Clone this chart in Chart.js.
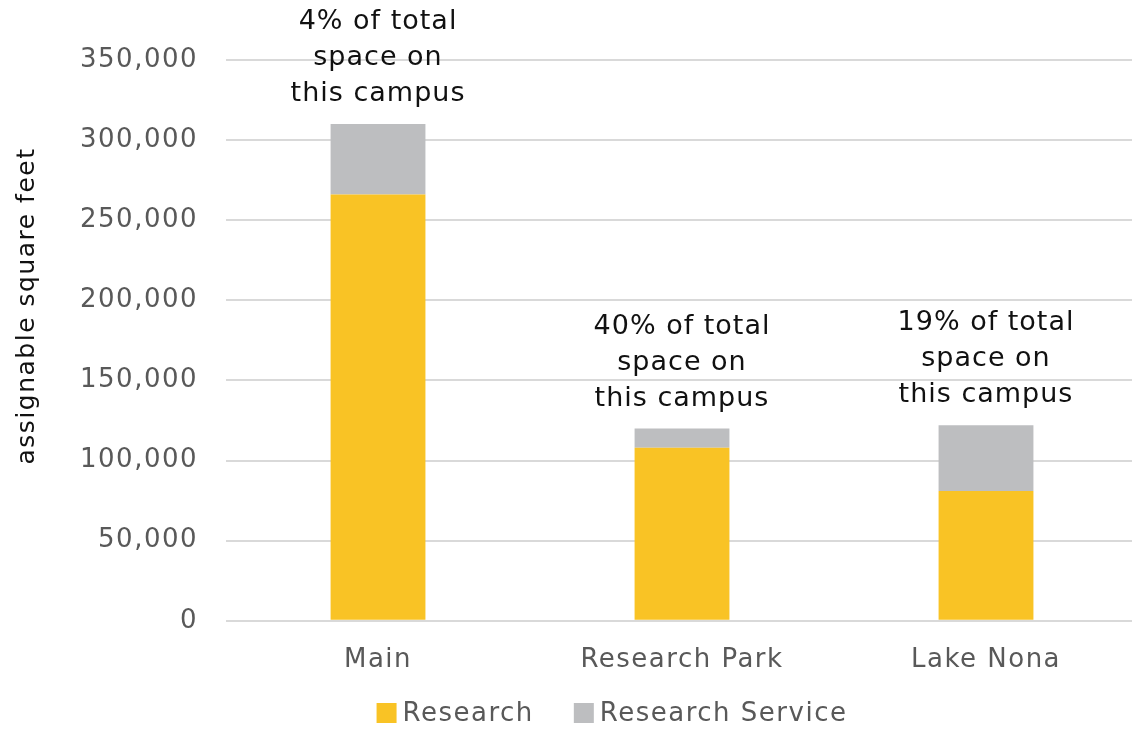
<!DOCTYPE html>
<html>
<head>
<meta charset="utf-8">
<script src="https://cdn.jsdelivr.net/npm/chart.js@4"></script>
<style>
  html, body { margin: 0; padding: 0; background: #fff; overflow: hidden; }
  #wrap { width: 1132px; height: 729px; overflow: hidden; }
  canvas { display: block; }
</style>
</head>
<body>
<div id="wrap"><canvas id="c" width="1138" height="729"></canvas></div>
<script>
// Assignable square feet by campus
const campuses = ['Main', 'Research Park', 'Lake Nona'];
const research = [266000, 108000, 81000];
const researchService = [44000, 12000, 41000];
const shareNotes = [
  ['4% of total', 'space on', 'this campus'],
  ['40% of total', 'space on', 'this campus'],
  ['19% of total', 'space on', 'this campus']
];
const yTicks = [0, 50000, 100000, 150000, 200000, 250000, 300000, 350000];
const yTitle = 'assignable square feet';

const FONT = "'DejaVu Sans', sans-serif";
const SPACING = '1.5px';

// Slightly tracked-out lettering for every text drawn on the canvas
const tracking = {
  id: 'tracking',
  beforeUpdate(chart) { chart.ctx.letterSpacing = SPACING; },
  beforeDraw(chart) { chart.ctx.letterSpacing = SPACING; }
};

// Writes the share note above each stacked bar
const shareNotesPlugin = {
  id: 'shareNotes',
  afterDatasetsDraw(chart) {
    const { ctx, scales } = chart;
    ctx.save();
    ctx.letterSpacing = '1px';
    ctx.font = '27px ' + FONT;
    ctx.fillStyle = '#111';
    ctx.textAlign = 'center';
    ctx.textBaseline = 'middle';
    campuses.forEach((_, i) => {
      const total = research[i] + researchService[i];
      const x = scales.x.getPixelForValue(i);
      const yTop = scales.y.getPixelForValue(total);
      const lines = shareNotes[i];
      const lh = 36;
      lines.forEach((t, k) => {
        const y = yTop - 30 - (lines.length - 1 - k) * lh;
        ctx.fillText(t, x, y);
      });
    });
    ctx.restore();
  }
};

// Vertical axis title and the legend row under the category labels
const frame = {
  id: 'frame',
  afterDraw(chart) {
    const { ctx } = chart;
    ctx.save();
    ctx.letterSpacing = SPACING;
    ctx.font = '25px ' + FONT;
    ctx.fillStyle = '#111';
    ctx.textAlign = 'center';
    ctx.textBaseline = 'middle';
    ctx.translate(27, 306);
    ctx.rotate(-Math.PI / 2);
    ctx.fillText(yTitle, 0, 0);
    ctx.restore();

    ctx.save();
    ctx.letterSpacing = SPACING;
    ctx.font = '26px ' + FONT;
    ctx.textBaseline = 'middle';
    ctx.textAlign = 'left';
    const items = chart.data.datasets.map(d => ({ text: d.label, color: d.backgroundColor, w: ctx.measureText(d.label).width }));
    const box = 20, gapText = 6, gapItem = 40;
    const total = items.reduce((s, it) => s + box + gapText + it.w, 0) + gapItem * (items.length - 1);
    let x = 612 - total / 2;
    const y = 713;
    items.forEach(it => {
      ctx.fillStyle = it.color;
      ctx.fillRect(x, y - box / 2, box, box);
      ctx.fillStyle = '#595959';
      ctx.fillText(it.text, x + box + gapText, y + 1);
      x += box + gapText + it.w + gapItem;
    });
    ctx.restore();
  }
};

new Chart(document.getElementById('c'), {
  type: 'bar',
  data: {
    labels: campuses,
    datasets: [
      { label: 'Research', data: research, backgroundColor: '#F9C325', barPercentage: 0.312, categoryPercentage: 1 },
      { label: 'Research Service', data: researchService, backgroundColor: '#BDBEC0', barPercentage: 0.312, categoryPercentage: 1 }
    ]
  },
  options: {
    responsive: false,
    animation: false,
    layout: { padding: { top: 60, left: 52, right: 0, bottom: 29 } },
    plugins: {
      legend: { display: false },
      tooltip: { enabled: false }
    },
    scales: {
      x: {
        stacked: true,
        grid: { display: false, drawTicks: false },
        border: { display: false },
        ticks: { font: { family: FONT, size: 26 }, color: '#595959', padding: 24 }
      },
      y: {
        stacked: true,
        min: 0,
        max: 350000,
        afterBuildTicks(axis) { axis.ticks = yTicks.map(v => ({ value: v })); },
        grid: { color: '#D9D9D9', lineWidth: 2, drawTicks: false },
        border: { display: false },
        ticks: {
          font: { family: FONT, size: 26 },
          color: '#595959',
          padding: 28,
          callback: v => v.toLocaleString('en-US')
        },
        title: { display: false }
      }
    }
  },
  plugins: [tracking, shareNotesPlugin, frame]
});
</script>
</body>
</html>
